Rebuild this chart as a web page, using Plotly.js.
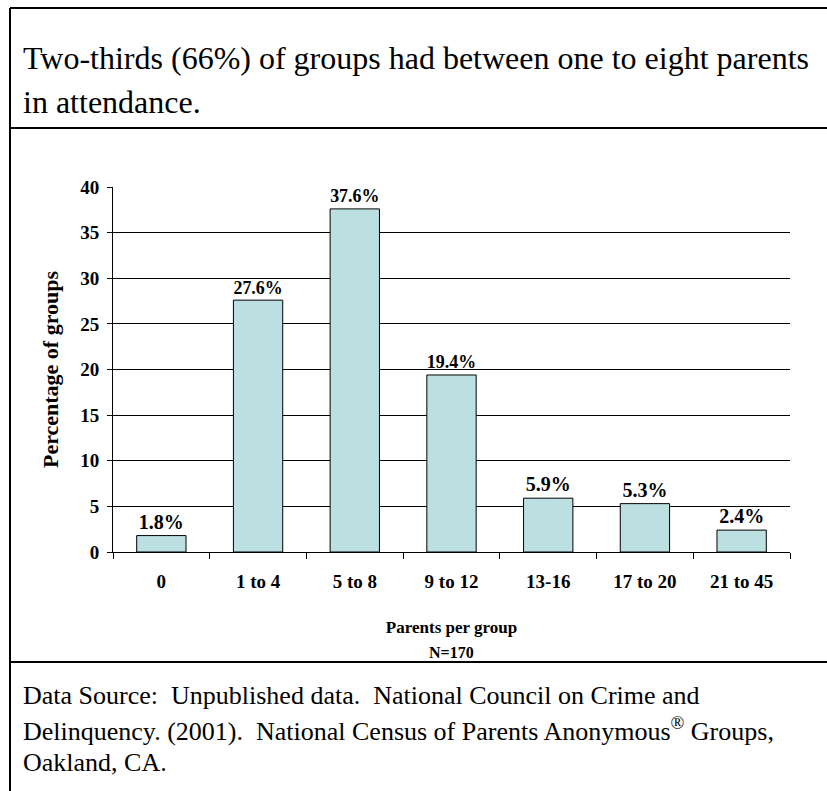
<!DOCTYPE html>
<html>
<head>
<meta charset="utf-8">
<script src="https://cdn.plot.ly/plotly-3.0.1.min.js"></script>
<style>html,body{margin:0;padding:0;background:#fff;}#chart{width:827px;height:791px;}</style>
</head>
<body>
<div id="chart"></div>
<script>
const categories = ["0", "1 to 4", "5 to 8", "9 to 12", "13-16", "17 to 20", "21 to 45"];
const percentages = [1.8, 27.6, 37.6, 19.4, 5.9, 5.3, 2.4];
const yTicks = [0, 5, 10, 15, 20, 25, 30, 35, 40];
const titleLines = ["Two-thirds (66%) of groups had between one to eight parents", "in attendance."];
const footerLines = [
  "Data Source:  Unpublished data.  National Council on Crime and",
  "Delinquency. (2001).  National Census of Parents Anonymous<sup>®</sup> Groups,",
  "Oakland, CA."
];
const xTitle = "Parents per group";
const yTitle = "Percentage of groups";
const nNote = "N=170";

const W = 827, H = 791;
const L = 113, R = 790, T = 187, B = 552;
const px = x => (x - L) / (R - L);
const py = y => (B - y) / (B - T);
const serif = "'Liberation Serif', 'Times New Roman', Times, serif";

const trace = {
  type: "bar",
  x: categories,
  y: percentages,
  marker: {color: "#BCE0E1", line: {color: "#000", width: 1}},
  texttemplate: "%{y:.1f}%",
  textposition: "outside",
  cliponaxis: false,
  textfont: {family: serif, size: 20, color: "#000", weight: "bold"},
  hoverinfo: "x+y"
};

const annotations = [];
titleLines.forEach((t, i) => annotations.push({
  text: t, xref: "paper", yref: "paper", x: px(21), y: py([58, 102][i]),
  xanchor: "left", yanchor: "middle", showarrow: false,
  font: {family: serif, size: 32, color: "#000"}
}));
footerLines.forEach((t, i) => annotations.push({
  text: t, xref: "paper", yref: "paper", x: px(21), y: py([695, 729, 762][i]),
  xanchor: "left", yanchor: "middle", showarrow: false,
  font: {family: serif, size: 26, color: "#000"}
}));
annotations.push({
  text: nNote, xref: "paper", yref: "paper", x: 0.5, y: py(652),
  xanchor: "center", yanchor: "middle", showarrow: false,
  font: {family: serif, size: 16, color: "#000", weight: "bold"}
});

const line = (x0, y0, x1, y1) => ({
  type: "line", xref: "paper", yref: "paper",
  x0: px(x0), y0: py(y0), x1: px(x1), y1: py(y1),
  line: {color: "#000", width: 2}
});
const shapes = [
  line(10, 8, 830, 8),
  line(10, 8, 10, 795),
  line(10, 128, 830, 128),
  line(10, 662, 830, 662)
];

const layout = {
  width: W, height: H,
  margin: {l: L, r: W - R, t: T, b: H - B, pad: 0},
  paper_bgcolor: "#fff", plot_bgcolor: "#fff",
  showlegend: false,
  bargap: 0.49,
  font: {family: serif, color: "#000"},
  xaxis: {
    type: "category",
    showline: true, linecolor: "#000", linewidth: 1,
    ticks: "outside", tickson: "boundaries", ticklen: 6, tickcolor: "#000",
    ticklabelstandoff: 12,
    tickfont: {family: serif, size: 19, color: "#000", weight: "bold"},
    title: {text: xTitle, standoff: 30, font: {family: serif, size: 17, color: "#000", weight: "bold"}},
    showgrid: false, zeroline: false
  },
  yaxis: {
    range: [0, 40], tickvals: yTicks, ticktext: yTicks.map(String),
    showline: true, linecolor: "#000", linewidth: 1,
    ticks: "outside", ticklen: 5, tickcolor: "#000",
    ticklabelstandoff: 4,
    tickfont: {family: serif, size: 19, color: "#000", weight: "bold"},
    showgrid: true, gridcolor: "#000", gridwidth: 1,
    zeroline: false,
    title: {text: yTitle, standoff: 15, font: {family: serif, size: 22, color: "#000", weight: "bold"}}
  },
  annotations: annotations,
  shapes: shapes
};

Plotly.newPlot("chart", [trace], layout, {displayModeBar: false, staticPlot: true});
</script>
</body>
</html>
